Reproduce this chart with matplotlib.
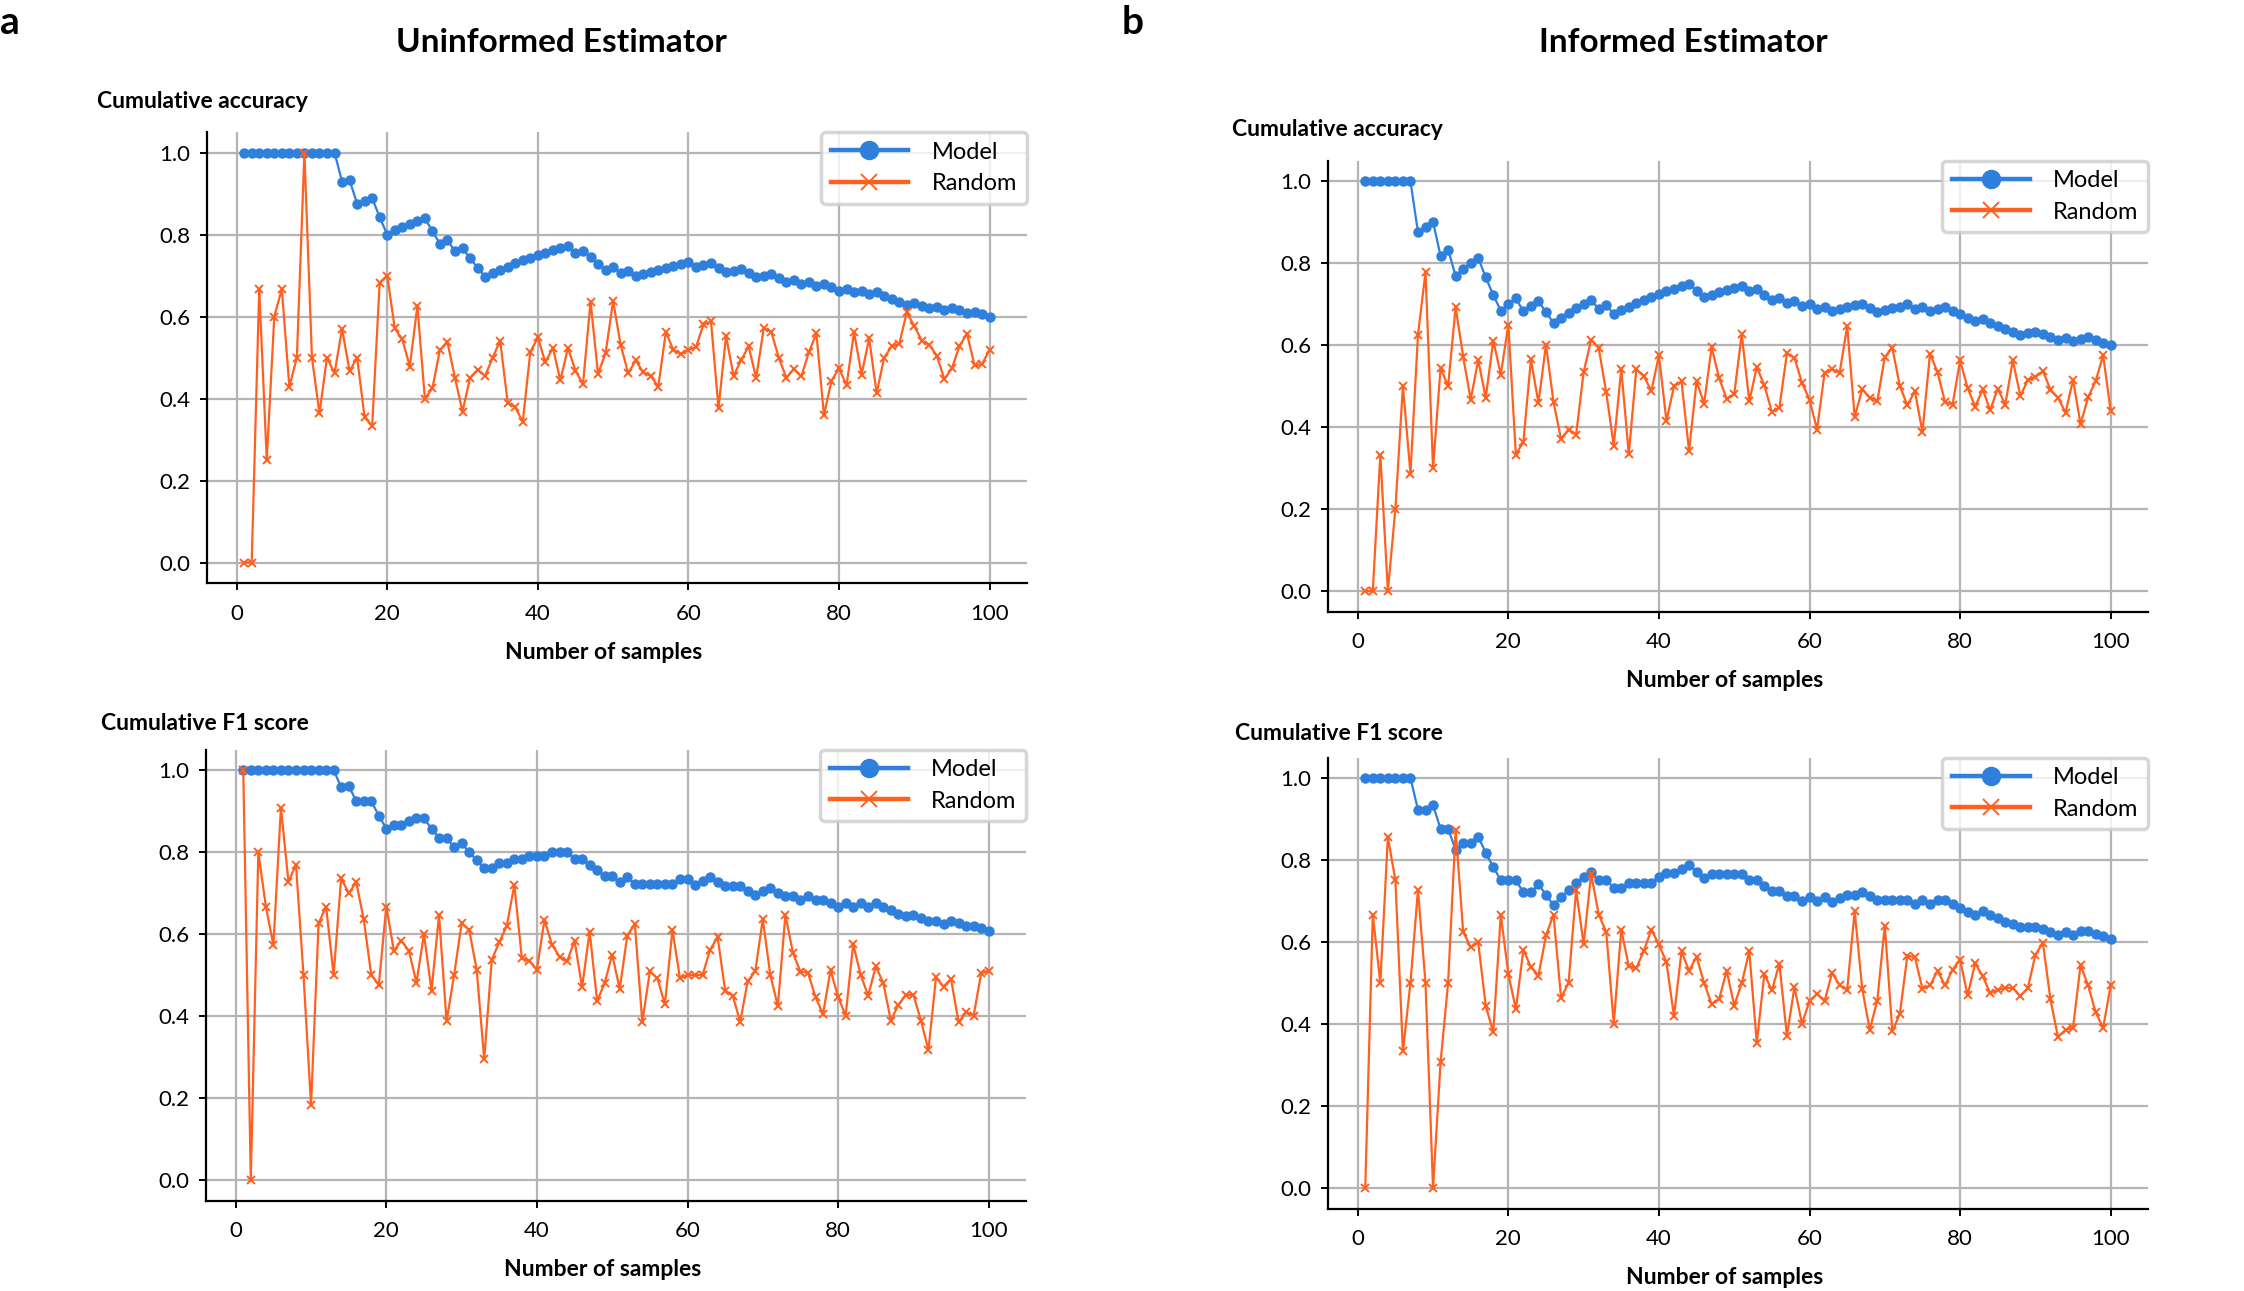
import matplotlib.pyplot as plt

plt.rcParams['font.family'] = ['Lato', 'DejaVu Sans']

n_samples = list(range(1, 101))

# Uninformed estimator, cumulative accuracy
unif_acc_model = [
    1, 1, 1, 1, 1, 1, 1, 1, 1, 1,
    1, 1, 1, 0.929, 0.933, 0.875, 0.882, 0.889, 0.842, 0.800,
    0.810, 0.818, 0.826, 0.833, 0.840, 0.808, 0.778, 0.786, 0.759, 0.767,
    0.742, 0.719, 0.697, 0.706, 0.714, 0.722, 0.730, 0.737, 0.744, 0.750,
    0.756, 0.762, 0.767, 0.773, 0.756, 0.761, 0.745, 0.729, 0.714, 0.720,
    0.706, 0.712, 0.698, 0.704, 0.709, 0.714, 0.719, 0.724, 0.729, 0.733,
    0.721, 0.726, 0.730, 0.719, 0.708, 0.712, 0.716, 0.706, 0.696, 0.700,
    0.704, 0.694, 0.685, 0.689, 0.680, 0.684, 0.675, 0.679, 0.671, 0.663,
    0.667, 0.659, 0.663, 0.655, 0.659, 0.651, 0.644, 0.636, 0.629, 0.633,
    0.626, 0.620, 0.624, 0.617, 0.621, 0.615, 0.608, 0.612, 0.606, 0.600]
unif_acc_random = [
    0.0, 0.0, 0.667, 0.25, 0.6, 0.667, 0.429, 0.5, 1.0, 0.5,
    0.364, 0.5, 0.462, 0.570, 0.467, 0.5, 0.354, 0.334, 0.683, 0.700,
    0.571, 0.545, 0.478, 0.626, 0.40, 0.425, 0.519, 0.537, 0.45, 0.368,
    0.451, 0.470, 0.455, 0.5, 0.541, 0.390, 0.379, 0.343, 0.513, 0.549,
    0.488, 0.524, 0.444, 0.524, 0.468, 0.435, 0.636, 0.460, 0.511, 0.638,
    0.531, 0.462, 0.493, 0.464, 0.455, 0.429, 0.562, 0.519, 0.508, 0.519,
    0.525, 0.581, 0.588, 0.376, 0.553, 0.455, 0.494, 0.527, 0.45, 0.571,
    0.563, 0.5, 0.451, 0.472, 0.454, 0.513, 0.559, 0.360, 0.443, 0.474,
    0.432, 0.562, 0.458, 0.547, 0.413, 0.5, 0.527, 0.533, 0.610, 0.577,
    0.541, 0.531, 0.504, 0.447, 0.474, 0.528, 0.558, 0.481, 0.484, 0.519]

# Informed estimator, cumulative accuracy
inf_acc_model = [
    1, 1, 1, 1, 1, 1, 1, 0.875, 0.889, 0.900,
    0.818, 0.833, 0.769, 0.786, 0.800, 0.813, 0.765, 0.722, 0.684, 0.700,
    0.714, 0.682, 0.696, 0.708, 0.680, 0.654, 0.667, 0.679, 0.690, 0.700,
    0.710, 0.688, 0.697, 0.676, 0.686, 0.694, 0.703, 0.711, 0.718, 0.725,
    0.732, 0.738, 0.744, 0.750, 0.733, 0.717, 0.723, 0.729, 0.735, 0.740,
    0.745, 0.731, 0.736, 0.722, 0.709, 0.714, 0.702, 0.707, 0.695, 0.700,
    0.689, 0.694, 0.683, 0.688, 0.692, 0.697, 0.701, 0.691, 0.681, 0.686,
    0.690, 0.694, 0.699, 0.689, 0.693, 0.684, 0.688, 0.692, 0.684, 0.675,
    0.667, 0.659, 0.663, 0.655, 0.647, 0.640, 0.632, 0.625, 0.629, 0.633,
    0.626, 0.620, 0.613, 0.617, 0.611, 0.615, 0.619, 0.612, 0.606, 0.600]
inf_acc_random = [
    0.0, 0.0, 0.333, 0.0, 0.2, 0.5, 0.286, 0.625, 0.778, 0.3,
    0.544, 0.5, 0.692, 0.572, 0.467, 0.563, 0.471, 0.611, 0.528, 0.65,
    0.333, 0.364, 0.565, 0.459, 0.601, 0.461, 0.371, 0.394, 0.381, 0.534,
    0.613, 0.593, 0.485, 0.355, 0.542, 0.334, 0.541, 0.524, 0.488, 0.575,
    0.415, 0.499, 0.512, 0.342, 0.512, 0.457, 0.595, 0.519, 0.469, 0.48,
    0.627, 0.463, 0.546, 0.502, 0.437, 0.447, 0.580, 0.569, 0.508, 0.467,
    0.394, 0.532, 0.541, 0.532, 0.646, 0.425, 0.492, 0.472, 0.463, 0.571,
    0.593, 0.5, 0.453, 0.488, 0.387, 0.579, 0.534, 0.461, 0.455, 0.5625,
    0.495, 0.45, 0.492, 0.441, 0.494, 0.455, 0.5625, 0.476, 0.515, 0.522,
    0.537, 0.491, 0.472, 0.435, 0.515, 0.407, 0.473, 0.512, 0.575, 0.439]

# Uninformed estimator, cumulative F1
unif_f1_model = [
    1, 1, 1, 1, 1, 1, 1, 1, 1, 1,
    1, 1, 1, 0.958, 0.962, 0.924, 0.924, 0.924, 0.889, 0.857,
    0.867, 0.867, 0.875, 0.882, 0.882, 0.857, 0.834, 0.834, 0.812, 0.821,
    0.800, 0.780, 0.761, 0.761, 0.773, 0.773, 0.782, 0.782, 0.791, 0.791,
    0.791, 0.800, 0.800, 0.800, 0.784, 0.784, 0.769, 0.755, 0.741, 0.741,
    0.726, 0.738, 0.723, 0.723, 0.723, 0.723, 0.723, 0.723, 0.734, 0.734,
    0.720, 0.730, 0.739, 0.726, 0.716, 0.716, 0.716, 0.705, 0.695, 0.704,
    0.713, 0.701, 0.693, 0.693, 0.683, 0.693, 0.683, 0.683, 0.675, 0.666,
    0.675, 0.666, 0.675, 0.666, 0.675, 0.666, 0.658, 0.650, 0.643, 0.646,
    0.639, 0.631, 0.631, 0.624, 0.633, 0.626, 0.620, 0.620, 0.614, 0.608]
unif_f1_random = [
    1.0, 0.0, 0.80, 0.667, 0.573, 0.908, 0.728, 0.769, 0.50, 0.182,
    0.626, 0.667, 0.50, 0.736, 0.70, 0.726, 0.636, 0.50, 0.476, 0.667,
    0.559, 0.584, 0.559, 0.481, 0.60, 0.462, 0.646, 0.387, 0.50, 0.626,
    0.61, 0.513, 0.294, 0.537, 0.580, 0.62, 0.72, 0.541, 0.535, 0.513,
    0.635, 0.574, 0.545, 0.533, 0.584, 0.470, 0.606, 0.436, 0.481, 0.55,
    0.466, 0.596, 0.625, 0.385, 0.509, 0.492, 0.429, 0.61, 0.492, 0.50,
    0.50, 0.50, 0.562, 0.592, 0.462, 0.45, 0.386, 0.485, 0.509, 0.636,
    0.5, 0.424, 0.647, 0.554, 0.508, 0.506, 0.446, 0.405, 0.512, 0.447,
    0.401, 0.575, 0.5, 0.45, 0.521, 0.481, 0.389, 0.427, 0.451, 0.452,
    0.389, 0.317, 0.494, 0.472, 0.49, 0.385, 0.409, 0.401, 0.504, 0.511]

# Informed estimator, cumulative F1
inf_f1_model = [
    1, 1, 1, 1, 1, 1, 1, 0.923, 0.923, 0.934,
    0.876, 0.876, 0.825, 0.842, 0.842, 0.857, 0.818, 0.783, 0.751, 0.751,
    0.751, 0.721, 0.721, 0.741, 0.715, 0.690, 0.710, 0.727, 0.744, 0.758,
    0.772, 0.751, 0.751, 0.732, 0.732, 0.745, 0.745, 0.745, 0.745, 0.758,
    0.768, 0.768, 0.778, 0.787, 0.772, 0.755, 0.766, 0.766, 0.766, 0.766,
    0.766, 0.751, 0.751, 0.737, 0.725, 0.725, 0.713, 0.713, 0.699, 0.709,
    0.699, 0.709, 0.697, 0.707, 0.715, 0.715, 0.723, 0.713, 0.702, 0.702,
    0.702, 0.702, 0.702, 0.693, 0.702, 0.693, 0.702, 0.702, 0.693, 0.683,
    0.674, 0.666, 0.675, 0.666, 0.659, 0.650, 0.644, 0.637, 0.637, 0.637,
    0.631, 0.624, 0.618, 0.624, 0.618, 0.626, 0.626, 0.620, 0.614, 0.607]
inf_f1_random = [
    0.0, 0.667, 0.50, 0.856, 0.751, 0.334, 0.50, 0.727, 0.50, 0.0,
    0.307, 0.50, 0.874, 0.625, 0.587, 0.599, 0.444, 0.380, 0.667, 0.522,
    0.436, 0.581, 0.539, 0.518, 0.616, 0.667, 0.464, 0.50, 0.727, 0.595,
    0.766, 0.667, 0.625, 0.401, 0.630, 0.541, 0.536, 0.579, 0.630, 0.594,
    0.551, 0.419, 0.577, 0.530, 0.564, 0.50, 0.449, 0.461, 0.530, 0.445,
    0.50, 0.577, 0.354, 0.522, 0.482, 0.547, 0.371, 0.490, 0.401, 0.456,
    0.474, 0.456, 0.525, 0.494, 0.484, 0.675, 0.486, 0.386, 0.457, 0.640,
    0.382, 0.425, 0.567, 0.563, 0.486, 0.494, 0.530, 0.494, 0.533, 0.557,
    0.470, 0.548, 0.517, 0.475, 0.484, 0.488, 0.488, 0.468, 0.488, 0.569,
    0.598, 0.460, 0.368, 0.386, 0.391, 0.544, 0.494, 0.429, 0.391, 0.494]

blue = '#2e80dc'
orange = '#ff5f1f'

fig = plt.figure(figsize=(22.44, 12.91), dpi=100)

# axes rectangles in figure fractions (left, bottom, width, height)
panels = [
    ([0.0922, 0.5484, 0.3654, 0.3493], unif_acc_model, unif_acc_random),
    ([0.5918, 0.5263, 0.3654, 0.3493], inf_acc_model, inf_acc_random),
    ([0.0918, 0.0701, 0.3654, 0.3493], unif_f1_model, unif_f1_random),
    ([0.5918, 0.0639, 0.3654, 0.3493], inf_f1_model, inf_f1_random),
]

for rect, model, rand in panels:
    ax = fig.add_axes(rect)
    ax.plot(n_samples, model, color=blue, marker='o', markersize=6.5, lw=1.6, label='Model')
    ax.plot(n_samples, rand, color=orange, marker='x', markersize=6, mew=1.4, lw=1.6, label='Random')
    ax.grid(True, color='#b4b4b4', lw=1.6)
    ax.set_axisbelow(True)
    ax.spines['top'].set_visible(False)
    ax.spines['right'].set_visible(False)
    ax.spines['left'].set_linewidth(1.6)
    ax.spines['bottom'].set_linewidth(1.6)
    ax.set_xticks([0, 20, 40, 60, 80, 100])
    ax.set_yticks([0.0, 0.2, 0.4, 0.6, 0.8, 1.0])
    ax.tick_params(labelsize=16, length=5, width=1.4, pad=7)
    ax.tick_params(axis='x', pad=10)
    ax.set_xlabel('Number of samples', fontsize=16.5, fontweight='bold', labelpad=13)
    ax.xaxis.label.set_x(0.484)
    leg = ax.legend(loc='upper right', fontsize=17, markerscale=2, borderaxespad=0,
                    handlelength=3.3, handletextpad=1.0, borderpad=0.4, labelspacing=0.45,
                    fancybox=True)
    for h in leg.legend_handles:
        h.set_linewidth(3.2)
    leg.get_frame().set_edgecolor('#cccccc')
    leg.get_frame().set_linewidth(2.5)

W, H = 2244, 1291


def ftext(x, y, s, **kw):
    fig.text(x / W, 1 - y / H, s, va='center', **kw)


ftext(0, 22, 'a', fontsize=28, fontweight='bold', ha='left')
ftext(1122, 22, 'b', fontsize=28, fontweight='bold', ha='left')
ftext(561, 43, 'Uninformed Estimator', fontsize=24, fontweight='bold', ha='center')
ftext(1683, 43, 'Informed Estimator', fontsize=24, fontweight='bold', ha='center')
ftext(97, 101, 'Cumulative accuracy', fontsize=16.5, fontweight='bold', ha='left')
ftext(1232, 129, 'Cumulative accuracy', fontsize=16.5, fontweight='bold', ha='left')
ftext(101, 724, 'Cumulative F1 score', fontsize=16.5, fontweight='bold', ha='left')
ftext(1235, 734, 'Cumulative F1 score', fontsize=16.5, fontweight='bold', ha='left')

fig.savefig('out.png', dpi=100)
